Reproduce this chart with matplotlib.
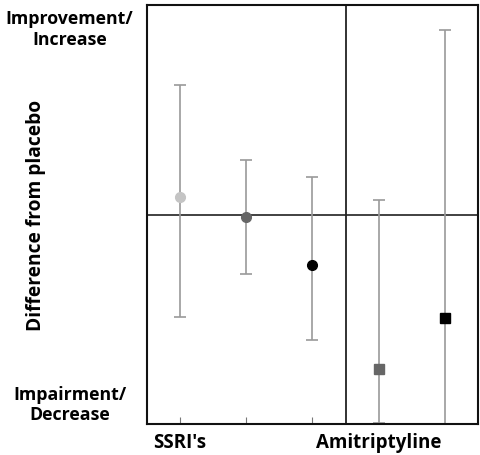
import matplotlib.pyplot as plt

# Difference from placebo (arbitrary units, 0 = placebo)
positions = [1, 2, 3, 4, 5]
means = [0.086, -0.014, -0.239, -0.735, -0.496]
upper = [0.62, 0.258, 0.181, 0.067, 0.883]
lower = [-0.49, -0.286, -0.597, -0.993, -1.08]
markers = ["o", "o", "o", "s", "s"]
colors = ["#c4c4c4", "#666666", "#000000", "#666666", "#000000"]
group_labels = ["SSRI's", "Amitriptyline"]
group_pos = [1, 4]

plt.rcParams['font.family'] = ['Open Sans', 'DejaVu Sans']

fig = plt.figure(figsize=(4.8, 4.55), dpi=100)
ax = fig.add_axes([0.306, 0.068, 0.69, 0.921])

for x, m, hi, lo, mk, c in zip(positions, means, upper, lower, markers, colors):
    ax.errorbar(x, m, yerr=[[m - lo], [hi - m]], fmt="none", ecolor="#9a9a9a",
                elinewidth=1.2, capsize=4, capthick=1.2, zorder=2)
    ax.plot(x, m, marker=mk, color=c, markersize=7, linestyle="none", zorder=3)

ax.axhline(0, color="#333333", lw=1.3, zorder=1)
ax.axvline(3.5, color="#222222", lw=1.3, zorder=1)

ax.set_xlim(0.5, 5.5)
ax.set_ylim(-1, 1)
ax.set_xticks([1, 2, 3])
ax.set_xticklabels([])
ax.tick_params(axis="x", direction="in", length=5, color="#777777")
ax.set_yticks([])
for s in ax.spines.values():
    s.set_linewidth(1.5)
    s.set_color("#111111")

for lab, x in zip(group_labels, group_pos):
    ax.text(x, -1.045, lab, ha="center", va="top", fontsize=13.5, fontweight="bold")

fig.text(0.145, 0.935, "Improvement/\nIncrease", ha="center", va="center",
         fontsize=12.8, fontweight="bold", linespacing=1.2)
fig.text(0.145, 0.11, "Impairment/\nDecrease", ha="center", va="center",
         fontsize=12.8, fontweight="bold", linespacing=1.2)
fig.text(0.075, 0.527, "Difference from placebo", ha="center", va="center",
         rotation=90, fontsize=13.8, fontweight="bold")

fig.savefig("out.png", dpi=100)
